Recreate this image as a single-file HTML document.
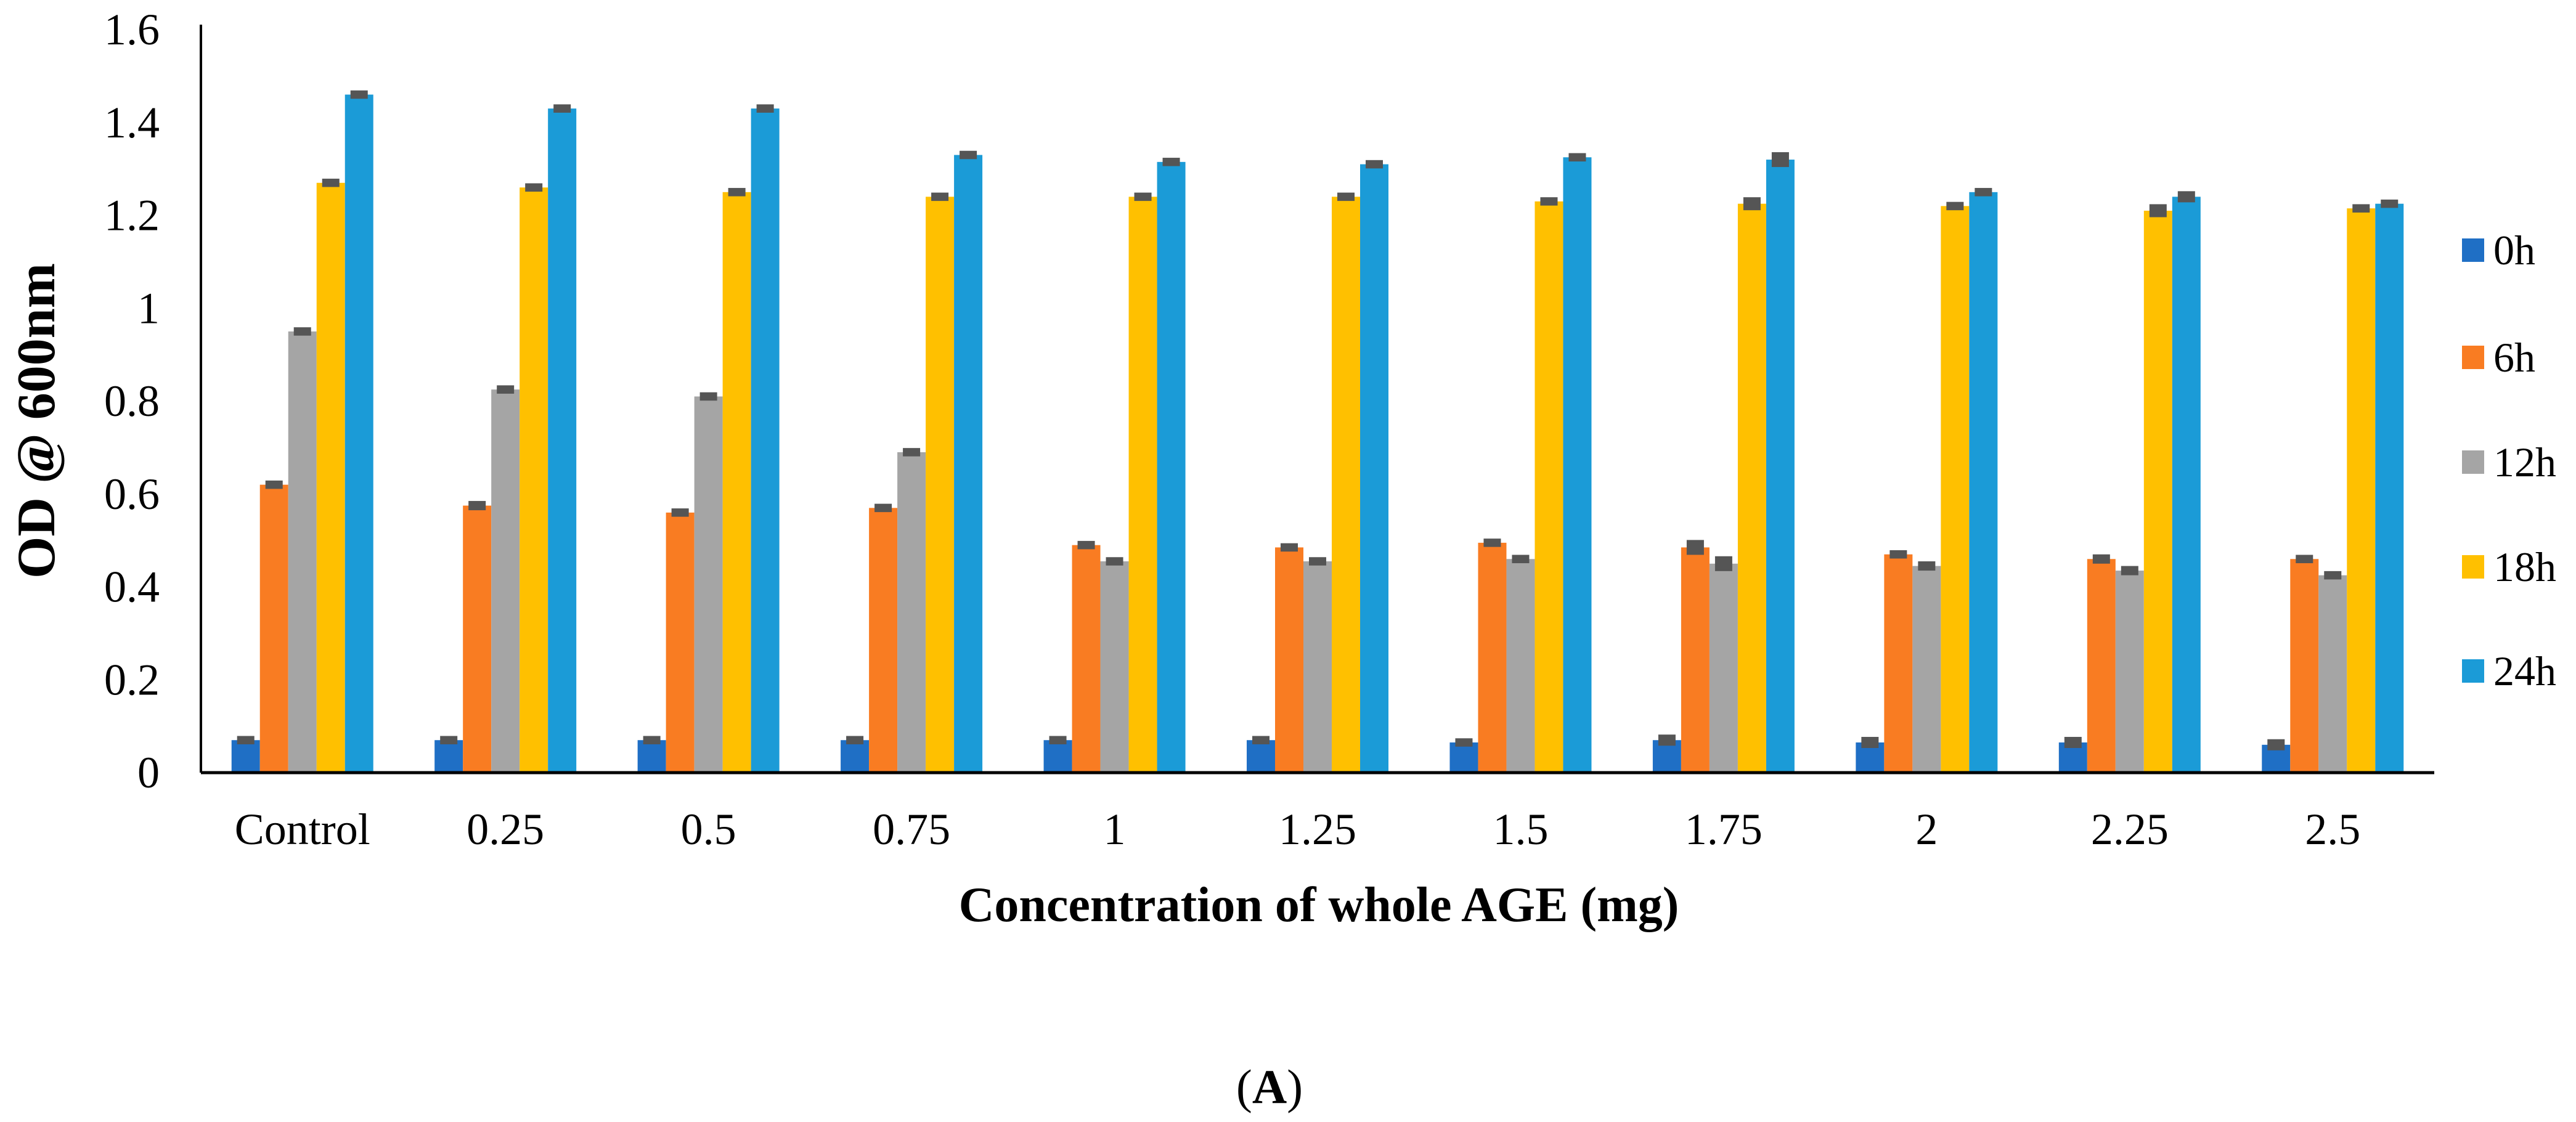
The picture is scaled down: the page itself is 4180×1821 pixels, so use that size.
<!DOCTYPE html>
<html><head><meta charset="utf-8"><style>
html,body{margin:0;padding:0;background:#fff;}
svg{display:block;font-family:"Liberation Serif",serif;}
</style></head><body>
<svg id="chart" width="4180" height="1821" viewBox="0 0 4180 1821" xmlns="http://www.w3.org/2000/svg">
<g id="bars"></g>
<g id="axes"></g>
<text x="0" y="0" transform="translate(88,683) rotate(-90)" text-anchor="middle" font-weight="bold" font-size="88">OD @ 600nm</text>
<text x="2140" y="1495" text-anchor="middle" font-weight="bold" font-size="80">Concentration of whole AGE (mg)</text>
<text x="2060" y="1790" text-anchor="middle" font-size="78">(<tspan font-weight="bold">A</tspan>)</text>
<g id="legend"></g>
</svg>
<script>
const categories = ["Control","0.25","0.5","0.75","1","1.25","1.5","1.75","2","2.25","2.5"];
const seriesNames = ["0h","6h","12h","18h","24h"];
const s0h  = [0.07,0.07,0.07,0.07,0.07,0.07,0.065,0.07,0.065,0.065,0.06];
const s6h  = [0.62,0.575,0.56,0.57,0.49,0.485,0.495,0.485,0.47,0.46,0.46];
const s12h = [0.95,0.825,0.81,0.69,0.455,0.455,0.46,0.45,0.445,0.435,0.425];
const s18h = [1.27,1.26,1.25,1.24,1.24,1.24,1.23,1.225,1.22,1.21,1.215];
const s24h = [1.46,1.43,1.43,1.33,1.315,1.31,1.325,1.32,1.25,1.24,1.225];
const errors = [
 [0.005,0.005,0.005,0.005,0.005,0.005,0.005,0.008,0.008,0.008,0.008],
 [0.005,0.006,0.005,0.005,0.005,0.005,0.005,0.012,0.005,0.006,0.005],
 [0.005,0.005,0.005,0.005,0.005,0.005,0.005,0.012,0.006,0.006,0.005],
 [0.005,0.005,0.005,0.005,0.005,0.005,0.005,0.01,0.005,0.01,0.005],
 [0.005,0.005,0.005,0.005,0.005,0.005,0.005,0.012,0.005,0.008,0.005]
];
const yTicks = [0,0.2,0.4,0.6,0.8,1,1.2,1.4,1.6];
const yTickLabels = ["0","0.2","0.4","0.6","0.8","1","1.2","1.4","1.6"];
const series = [s0h,s6h,s12h,s18h,s24h];
const colors = ["#1f6fc5","#f97c22","#a5a5a5","#ffc000","#1b9bd7"];

const NS="http://www.w3.org/2000/svg";
const X0=326, X1=3950, Y0=1254, Ytop=48, VMAX=1.6;
const bandW=(X1-X0)/categories.length, barW=46;
function yScale(v){return Y0-(v/VMAX)*(Y0-Ytop);}
function xCenter(i){return X0+bandW*(i+0.5);}
function mk(tag,attrs,parent){const e=document.createElementNS(NS,tag);for(const k in attrs)e.setAttribute(k,attrs[k]);parent.appendChild(e);return e;}

const bars=document.getElementById('bars');
const axes=document.getElementById('axes');
const legend=document.getElementById('legend');

series.forEach((vals,s)=>{
  vals.forEach((v,i)=>{
    const x=xCenter(i)-2.5*barW+s*barW;
    const r=mk('rect',{x:x,y:yScale(v),width:barW,height:Y0-yScale(v),fill:colors[s]},bars);
    
    
    const e=errors[s][i];
    const cx=x+barW/2, yt=yScale(v+e), yb=yScale(v-e);
    const g=mk('g',{},bars);
    
    
    mk('rect',{x:cx-14,y:yt-3,width:28,height:Math.max(yb-yt,2)+6,fill:'#555'},g);
  });
});

mk('line',{x1:X0,y1:Ytop-8,x2:X0,y2:Y0,stroke:'#000','stroke-width':4},axes);
mk('line',{x1:X0,y1:Y0,x2:X1,y2:Y0,stroke:'#000','stroke-width':5},axes);

yTicks.forEach((t,i)=>{
  const tx=mk('text',{x:259,y:yScale(t)+24,'text-anchor':'end','font-size':72},axes);
  
  
  tx.textContent=yTickLabels[i];
});
categories.forEach((c,i)=>{
  const tx=mk('text',{x:xCenter(i),y:1370,'text-anchor':'middle','font-size':72},axes);
  
  
  tx.textContent=c;
});

const legendY=[406,580,750,920,1089];
seriesNames.forEach((n,s)=>{
  const g=mk('g',{},legend);
  
  
  mk('rect',{x:3995,y:legendY[s]-19,width:36,height:38,fill:colors[s]},g);
  const t=mk('text',{x:4046,y:legendY[s]+23,'font-size':68},g);
  t.textContent=n;
});
</script>
</body></html>
